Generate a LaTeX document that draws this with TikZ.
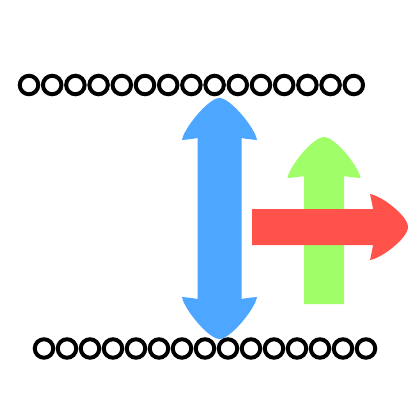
\documentclass[tikz,border=0pt]{standalone}
\definecolor{arrblue}{RGB}{77,166,255}
\definecolor{arrgreen}{RGB}{160,255,104}
\definecolor{arrred}{RGB}{255,82,74}
\tikzset{ring/.style={draw=black,line width=4pt,fill=none}}
\begin{document}
\begin{tikzpicture}[x=1pt,y=-1pt]
\fill[white] (0,0) rectangle (420,420);
\useasboundingbox (0,0) rectangle (420,420);
% blue double arrow
\fill[arrblue] (197.5,138) .. controls (192,139) .. (182,140) .. controls (184,128) and (208.5,98) .. (219.5,98) .. controls (230.5,98) and (255,128) .. (257,140) .. controls (247,139) .. (241.5,138) -- (241.5,299) .. controls (247,298) .. (257,297) .. controls (255,309) and (230.5,339) .. (219.5,339) .. controls (208.5,339) and (184,309) .. (182,297) .. controls (192,298) .. (197.5,299) -- cycle;
% green up arrow
\fill[arrgreen] (304,304) -- (304,176) .. controls (299,177) .. (287.5,178) .. controls (289.5,166) and (313,137) .. (324,137) .. controls (335,137) and (358.5,166) .. (360.5,178) .. controls (349,177) .. (344,176) -- (344,304) -- cycle;
% red right arrow
\fill[arrred] (252,209) -- (373,209) .. controls (372,203) .. (370,194) .. controls (382,196) and (408,216) .. (408,227) .. controls (408,238) and (382,258) .. (370,260) .. controls (372,251) .. (373,245) -- (252,245) -- cycle;
% rows of rings
\foreach \i in {0,...,14} {
  \draw[ring] ({29+23.2*\i},85) circle[radius=9.25];
  \draw[ring] ({44+23*\i},348.5) circle[radius=9.25];
}
\end{tikzpicture}
\end{document}
